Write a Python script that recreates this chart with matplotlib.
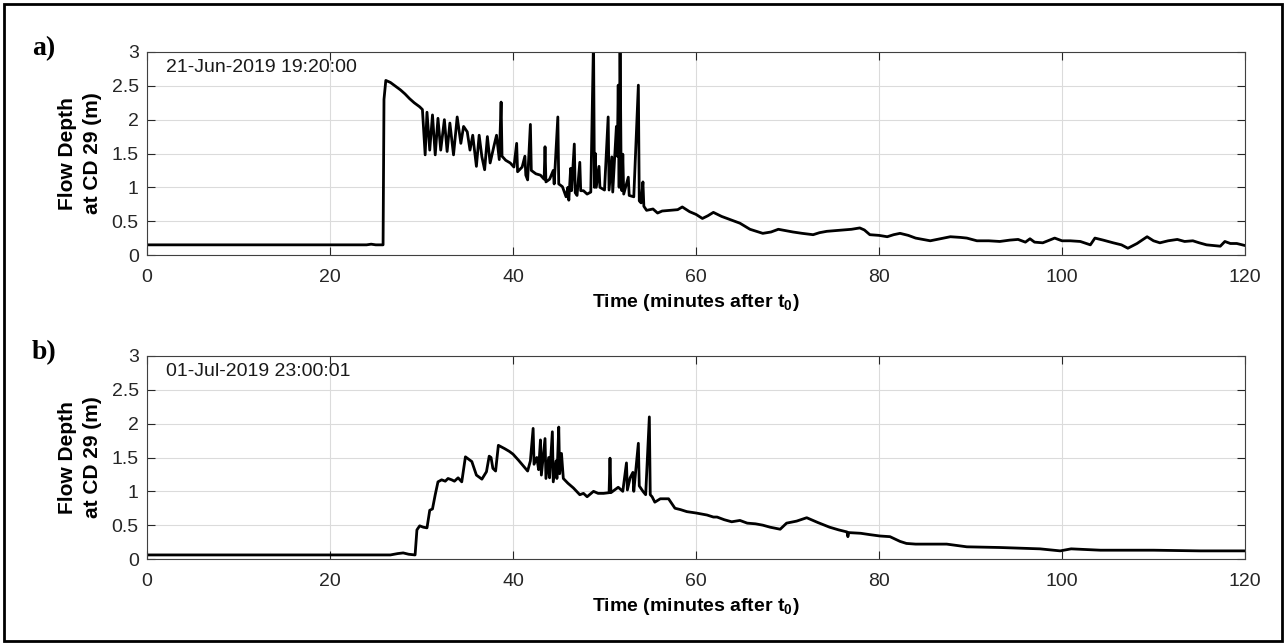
import numpy as np
import matplotlib
matplotlib.use('Agg')
import matplotlib.pyplot as plt
from matplotlib.patches import Rectangle

plt.rcParams['font.family'] = ['Liberation Sans', 'DejaVu Sans']
plt.rcParams['mathtext.fontset'] = 'custom'
plt.rcParams['mathtext.rm'] = 'Liberation Sans'
plt.rcParams['mathtext.bf'] = 'Liberation Sans:bold'

'''Data read off the figure'''
# event a) 21-Jun-2019
time_a = [0, 24.0, 24.5, 25.0, 25.8, 25.9, 26.1, 26.6, 27.1, 27.7, 28.2, 28.7, 29.2, 29.8, 30.1,
          30.4, 30.6, 30.9, 31.2, 31.5, 31.8, 32.1, 32.5, 32.8, 33.1, 33.5, 33.9, 34.3, 34.6, 35.0,
          35.3, 35.6, 36.0, 36.3, 36.6, 36.9, 37.2, 37.5, 37.9, 38.2, 38.5, 38.7, 38.8, 39.2, 39.7,
          40.1, 40.4, 40.5, 41.0, 41.3, 41.4, 41.6, 41.9, 42.0, 42.5, 43.0, 43.4, 43.5, 43.6, 44.0,
          44.4, 44.5, 44.9, 45.0, 45.4, 45.8, 46.0, 46.1, 46.3, 46.4, 46.7, 46.8, 47.0, 47.3, 47.4,
          47.7, 48.1, 48.5, 48.8, 48.9, 49.0, 49.1, 49.4, 49.5, 50.0, 50.4, 50.5, 50.8, 50.9, 51.3,
          51.4, 51.5, 51.6, 51.7, 51.8, 51.9, 52.0, 52.1, 52.6, 52.7, 53.2, 53.7, 53.8, 54.0, 54.2,
          54.3, 54.6, 55.3, 55.8, 56.3, 57.2, 58.0, 58.5, 59.3, 60.0, 60.7, 61.3, 61.9, 62.8, 63.8,
          64.8, 65.9, 66.6, 67.3, 68.2, 69.0, 69.8, 70.6, 71.6, 72.8, 73.5, 74.3, 75.2, 76.1, 77.0,
          77.9, 78.4, 79.0, 80.0, 80.9, 81.6, 82.3, 83.2, 84.0, 85.6, 86.7, 87.8, 88.9, 89.6, 90.7,
          92.0, 93.2, 94.3, 95.2, 96.0, 96.5, 97.0, 97.9, 99.2, 100.0, 100.9, 102.0, 103.1, 103.6,
          104.5, 105.6, 106.5, 107.2, 108.2, 109.3, 110.0, 110.7, 111.6, 112.6, 113.4, 114.3, 115.0,
          115.8, 116.5, 117.3, 117.8, 118.4, 119.1, 120]
depth_a = [0.15, 0.15, 0.16, 0.15, 0.15, 2.30, 2.58, 2.55, 2.50, 2.44, 2.38, 2.31, 2.25, 2.19, 2.15,
           1.48, 2.11, 1.55, 2.07, 1.48, 2.02, 1.55, 2.00, 1.53, 1.95, 1.48, 2.04, 1.65, 1.90, 1.82,
           1.55, 1.77, 1.31, 1.77, 1.45, 1.26, 1.75, 1.36, 1.60, 1.77, 1.41, 2.26, 1.46, 1.40, 1.36,
           1.30, 1.65, 1.23, 1.30, 1.46, 1.18, 1.11, 1.93, 1.25, 1.20, 1.18, 1.12, 1.60, 1.08, 1.12,
           1.25, 1.05, 2.04, 1.05, 1.01, 0.86, 1.00, 0.81, 1.28, 0.95, 1.64, 0.92, 0.88, 1.37, 0.95,
           0.95, 0.90, 0.93, 3.20, 1.00, 1.50, 1.00, 1.31, 1.00, 0.96, 2.04, 0.96, 1.45, 0.93, 1.90,
           1.46, 2.51, 1.00, 3.20, 1.51, 0.95, 1.49, 0.90, 1.15, 0.88, 0.86, 2.51, 0.80, 0.77, 1.08,
           0.72, 0.66, 0.68, 0.62, 0.65, 0.66, 0.67, 0.71, 0.64, 0.60, 0.54, 0.58, 0.63, 0.57, 0.52,
           0.47, 0.38, 0.35, 0.32, 0.34, 0.38, 0.36, 0.34, 0.32, 0.30, 0.33, 0.35, 0.36, 0.37, 0.38,
           0.40, 0.37, 0.30, 0.29, 0.27, 0.30, 0.32, 0.29, 0.25, 0.21, 0.24, 0.27, 0.26, 0.25, 0.21,
           0.21, 0.20, 0.22, 0.23, 0.19, 0.24, 0.19, 0.18, 0.25, 0.21, 0.21, 0.20, 0.15, 0.25,
           0.22, 0.18, 0.15, 0.10, 0.17, 0.27, 0.21, 0.18, 0.21, 0.23, 0.20, 0.21, 0.18,
           0.15, 0.14, 0.13, 0.20, 0.17, 0.17, 0.14]

# event b) 01-Jul-2019
time_b = [0, 26.6, 27.4, 28.0, 28.6, 29.3, 29.5, 29.8, 30.2, 30.6, 30.9, 31.2, 31.5, 31.8, 32.2,
          32.6, 32.9, 33.3, 33.6, 34.0, 34.4, 34.8, 35.2, 35.5, 36.0, 36.6, 37.1, 37.4, 37.6, 37.8,
          38.1, 38.4, 39.1, 39.6, 40.0, 40.6, 41.1, 41.6, 41.9, 42.2, 42.3, 42.6, 42.8, 43.0, 43.1,
          43.5, 43.6, 43.9, 44.0, 44.3, 44.4, 44.7, 44.8, 45.0, 45.1, 45.3, 45.5, 46.0, 46.6, 47.3,
          47.7, 48.1, 48.8, 49.3, 49.9, 50.5, 50.6, 50.7, 51.5, 52.0, 52.4, 52.5, 52.8, 53.1, 53.2,
          53.7, 53.8, 54.2, 54.5, 54.9, 55.0, 55.2, 55.5, 56.1, 57.0, 57.7, 58.3, 59.0, 60.0, 60.4,
          61.2, 61.9, 62.3, 63.1, 63.9, 64.8, 65.6, 66.5, 67.3, 68.1, 69.2, 69.9, 71.0, 72.1, 73.3,
          74.6, 75.6, 76.5, 76.6, 76.7, 78.0, 79.0, 80.1, 81.2, 82.3, 83.0, 84.0, 85.6, 87.4, 89.6,
          93.2, 95.5, 97.6, 99.8, 101.0, 104.2, 110.0, 115.1, 120]
depth_b = [0.06, 0.06, 0.08, 0.09, 0.07, 0.06, 0.43, 0.49, 0.47, 0.46, 0.72, 0.74, 0.95, 1.14, 1.17,
           1.15, 1.19, 1.17, 1.15, 1.20, 1.14, 1.51, 1.47, 1.44, 1.24, 1.18, 1.29, 1.52, 1.50, 1.34,
           1.30, 1.68, 1.63, 1.59, 1.55, 1.46, 1.38, 1.30, 1.45, 1.93, 1.40, 1.50, 1.32, 1.76, 1.24,
           1.78, 1.19, 1.50, 1.20, 1.88, 1.14, 1.45, 1.19, 1.95, 1.26, 1.56, 1.19, 1.12, 1.05, 0.95,
           0.97, 0.92, 1.00, 0.97, 0.97, 0.98, 1.49, 0.98, 1.06, 1.00, 1.42, 1.02, 1.20, 1.28, 1.00,
           1.71, 1.08, 1.00, 0.95, 2.10, 0.95, 0.92, 0.84, 0.89, 0.89, 0.75, 0.73, 0.70, 0.68, 0.67,
           0.65, 0.62, 0.62, 0.58, 0.55, 0.57, 0.53, 0.52, 0.50, 0.47, 0.44, 0.53, 0.56, 0.61, 0.54,
           0.47, 0.43, 0.40, 0.33, 0.39, 0.38, 0.36, 0.34, 0.33, 0.26, 0.23, 0.22, 0.22, 0.22, 0.18,
           0.17, 0.16, 0.15, 0.12, 0.15, 0.13, 0.13, 0.12, 0.12]

panels = [(time_a, depth_a, '21-Jun-2019 19:20:00', 'a)'),
          (time_b, depth_b, '01-Jul-2019 23:00:01', 'b)')]
x_ticks = [0, 20, 40, 60, 80, 100, 120]
y_ticks = [0, 0.5, 1, 1.5, 2, 2.5, 3]

W, H = 1287, 644
fig = plt.figure(figsize=(W / 100, H / 100), dpi=100)
ax_tops = [52, 356]   # pixel rows of the axes tops

for (t, d, stamp, tag), top in zip(panels, ax_tops):
    ax = fig.add_axes([147 / W, 1 - (top + 203) / H, 1098 / W, 203 / H])
    ax.plot(t, d, color='k', linewidth=2.0)
    ax.set_xlim(0, 120)
    ax.set_ylim(0, 3)
    ax.set_xticks(x_ticks)
    ax.set_yticks(y_ticks)
    ax.set_yticklabels(['0', '0.5', '1', '1.5', '2', '2.5', '3'])
    ax.grid(True, color='0.86', linewidth=0.8)
    ax.tick_params(direction='in', length=6, labelsize=14, colors='0.15',
                   top=True, right=True)
    ax.tick_params(axis='x', pad=10)
    ax.tick_params(axis='y', pad=6)
    for s in ax.spines.values():
        s.set_color('0.25')
        s.set_linewidth(0.8)
    ax.text(0.017, 0.965, stamp, transform=ax.transAxes, va='top', ha='left',
            fontsize=14, color='0.1')
    ax.set_ylabel('Flow Depth\nat CD 29 (m)', fontsize=15, fontweight='bold',
                  linespacing=1.4)
    ax.yaxis.set_label_coords(-0.041, 0.5)
    ax.set_xlabel(r'Time (minutes after t$_\mathbf{0}$)', fontsize=14, fontweight='bold')
    ax.xaxis.set_label_coords(0.5, -0.18)
    fig.text(32 / W, 1 - (top - 3) / H, tag, fontsize=20, fontweight='bold',
             family='Liberation Serif', va='center', ha='left')

# frame around the whole figure
fig.patches.append(Rectangle((4 / W, 3 / H), 1 - 9 / W, 1 - 7 / H, transform=fig.transFigure,
                             fill=False, edgecolor='k', linewidth=2))

fig.savefig('out.png', dpi=100)
